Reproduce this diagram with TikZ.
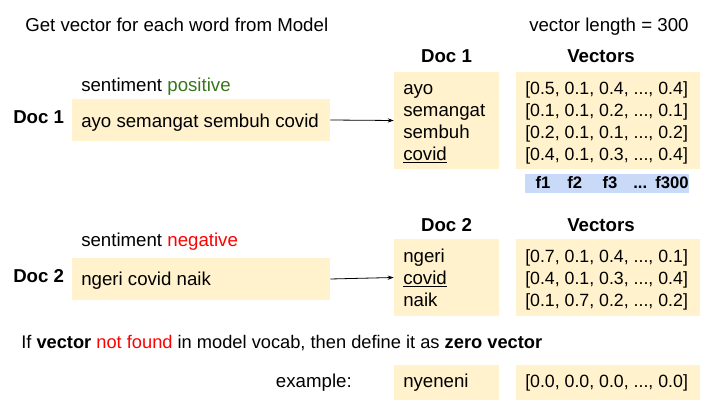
\documentclass[tikz,border=0pt]{standalone}
\usepackage{fontspec}
\setmainfont{Liberation Sans}
\usetikzlibrary{arrows.meta}

\definecolor{boxyellow}{HTML}{FFF2CC}
\definecolor{featblue}{HTML}{C9DAF8}
\definecolor{posgreen}{HTML}{38761D}
\definecolor{negred}{HTML}{FF0000}
\newcommand{\vecdots}{...}

\begin{document}
\begin{tikzpicture}[x=0.75pt,y=-0.75pt,
    font=\fontsize{14}{16.5}\selectfont,
    txt/.style={anchor=base west,inner sep=0pt},
    vectxt/.style={txt,font=\fontsize{13.3}{16.5}\selectfont},
    head/.style={anchor=base,inner sep=0pt,font=\fontsize{14}{16.5}\selectfont\bfseries},
    docbox/.style={fill=boxyellow,inner sep=0pt,minimum width=193.5pt,minimum height=31.5pt},
    wordbox/.style={fill=boxyellow,inner sep=0pt,minimum width=78.75pt},
    vecbox/.style={fill=boxyellow,inner sep=0pt,minimum width=138pt},
    featbox/.style={fill=featblue,inner sep=0pt,minimum width=123pt,minimum height=14.25pt},
    feat/.style={anchor=base,inner sep=0pt,font=\fontsize{12.5}{14}\selectfont\bfseries},
    link/.style={-{Stealth[length=4.5pt,width=3.2pt]},line width=0.6pt}]

    \useasboundingbox (0,0) rectangle (722,420);

    % heading
    \node[txt] (title) at (25,32) {Get vector for each word from Model};
    \node[txt] (veclen) at (529,32) {vector length = 300};

    % document 1
    \node[txt] (sent1) at (81,92) {sentiment \textcolor{posgreen}{positive}};
    \node[docbox] (doc1) at (201,120) {};
    \node[txt] (doc1txt) at (81,128) {ayo semangat sembuh covid};
    \node[head,anchor=base west] (lab1) at (13,124) {Doc 1};

    \node[head] (wordhead1) at (446.5,63) {Doc 1};
    \node[head] (vechead1) at (601,63) {Vectors};
    \node[wordbox,minimum height=72.75pt] (words1) at (446.5,120.5) {};
    \node[vecbox,minimum height=72.75pt] (vecs1) at (608,120.5) {};
    \foreach \w [count=\i] in {ayo,semangat,sembuh,\underline{covid}}
      \node[txt] (wa\i) at (403,{94.3+22*(\i-1)}) {\w};
    \foreach \v [count=\i] in {{[0.5, 0.1, 0.4, \vecdots, 0.4]},{[0.1, 0.1, 0.2, \vecdots, 0.1]},
                               {[0.2, 0.1, 0.1, \vecdots, 0.2]},{[0.4, 0.1, 0.3, \vecdots, 0.4]}}
      \node[vectxt] (va\i) at (525,{94.3+22*(\i-1)}) {\v};

    \node[featbox] (feats) at (607,183.5) {};
    \foreach \x/\f [count=\i] in {543/f1,574.7/f2,610/f3,640.3/\vecdots,672/f300}
      \node[feat] (f\i) at (\x,189) {\f};

    \draw[link] (doc1.east) -- (words1.west);

    % document 2
    \node[txt] (sent2) at (81,247) {sentiment \textcolor{negred}{negative}};
    \node[docbox] (doc2) at (201,279) {};
    \node[txt] (doc2txt) at (81,286) {ngeri covid naik};
    \node[head,anchor=base west] (lab2) at (13,283) {Doc 2};

    \node[head] (wordhead2) at (446.5,232) {Doc 2};
    \node[head] (vechead2) at (601,232) {Vectors};
    \node[wordbox,minimum height=57.75pt] (words2) at (446.5,277.5) {};
    \node[vecbox,minimum height=57.75pt] (vecs2) at (608,277.5) {};
    \foreach \w [count=\i] in {ngeri,\underline{covid},naik}
      \node[txt] (wb\i) at (403,{262.5+22*(\i-1)}) {\w};
    \foreach \v [count=\i] in {{[0.7, 0.1, 0.4, \vecdots, 0.1]},{[0.4, 0.1, 0.3, \vecdots, 0.4]},
                               {[0.1, 0.7, 0.2, \vecdots, 0.2]}}
      \node[vectxt] (vb\i) at (525,{262.5+22*(\i-1)}) {\v};

    \draw[link] (doc2.east) -- (words2.west);

    % unknown words
    \node[txt,font=\fontsize{13.7}{16.5}\selectfont] (note) at (21,349) {If \textbf{vector} \textcolor{negred}{not found} in model vocab, then define it as \textbf{zero vector}};
    \node[txt,anchor=base east] (example) at (352,388) {example:};
    \node[wordbox,minimum height=26.25pt] (zeroword) at (446.5,382.5) {};
    \node[vecbox,minimum height=26.25pt] (zerovec) at (608,382.5) {};
    \node[txt] (zerowordtxt) at (403,388) {nyeneni};
    \node[vectxt] (zerovectxt) at (525,388) {[0.0, 0.0, 0.0, \vecdots, 0.0]};

\end{tikzpicture}
\end{document}
